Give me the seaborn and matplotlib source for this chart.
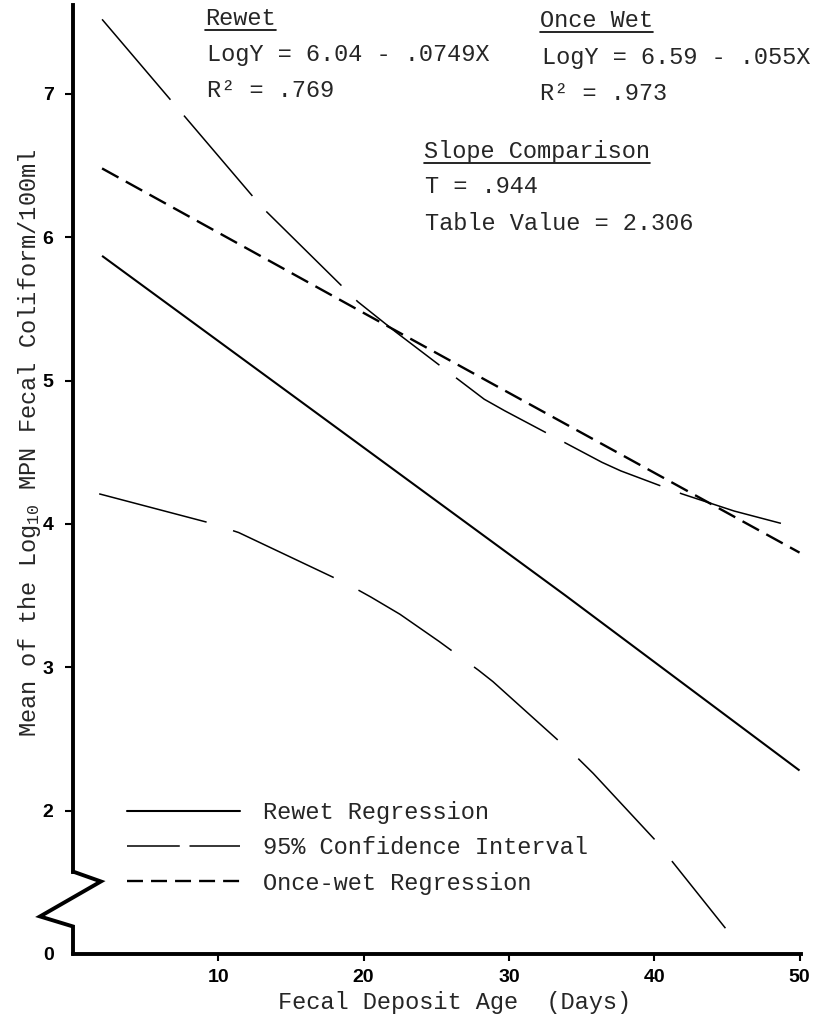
import matplotlib
matplotlib.use("Agg")
import matplotlib.pyplot as plt
from matplotlib.lines import Line2D
import pandas as pd
import seaborn as sns

# ---------------- data ----------------
# x = fecal deposit age (days), y = mean log10 MPN (plotted position)
rewet_x = [2, 15.6, 33.9, 50]
rewet_y = [5.87, 4.86, 3.50, 2.28]

oncewet_x = [2, 22, 50]
oncewet_y = [6.48, 5.36, 3.80]

ci_upper_x = [2, 6.7, 13, 19.6, 22.2, 28.3, 29.7, 36.4, 37.7, 41.9, 45.5, 50]
ci_upper_y = [7.52, 6.96, 6.21, 5.55, 5.34, 4.87, 4.79, 4.43, 4.37, 4.21, 4.09, 3.97]

ci_lower_x = [1.8, 9.3, 11.4, 18.9, 20.5, 22.5, 25.2, 27.9, 28.9, 34.6, 35.8, 40.2, 41.2, 44.9]
ci_lower_y = [4.21, 4.01, 3.94, 3.58, 3.49, 3.37, 3.18, 2.98, 2.90, 2.38, 2.26, 1.78, 1.65, 1.18]

x_ticks = [10, 20, 30, 40, 50]
x_tick_labels = ["10", "20", "30", "40", "50"]
y_ticks = [1.0, 2, 3, 4, 5, 6, 7]          # 1.0 is where the "0" sits below the axis break
y_tick_labels = ["0", "2", "3", "4", "5", "6", "7"]

legend_labels = ["Rewet Regression", "95% Confidence Interval", "Once-wet Regression"]

# ---------------- style ----------------
sns.set_theme(style="ticks")
plt.rcParams["font.family"] = ["Liberation Mono", "DejaVu Sans"]
plt.rcParams["mathtext.fontset"] = "custom"
plt.rcParams["mathtext.rm"] = "Liberation Mono"
plt.rcParams["mathtext.it"] = "Liberation Mono"
plt.rcParams["lines.scale_dashes"] = False

W, H = 815, 1016
FS = 17
fig = plt.figure(figsize=(W / 100, H / 100), dpi=100)
fig.patch.set_facecolor("white")
ax = fig.add_axes([73 / W, 1 - 954 / H, (801 - 73) / W, (954 - 5) / H])
ax.set_facecolor("white")

def line(xs, ys, lw, dashes=None):
    df = pd.DataFrame({"x": xs, "y": ys})
    sns.lineplot(data=df, x="x", y="y", ax=ax, color="black", lw=lw,
                 estimator=None, sort=False, legend=False)
    ln = ax.lines[-1]
    ln.set_solid_capstyle("butt")
    if dashes is not None:
        ln.set_dashes(dashes)
    return ln

line(rewet_x, rewet_y, 1.5)
line(oncewet_x, oncewet_y, 1.7, [13.5, 6])
line(ci_upper_x, ci_upper_y, 1.1, [76, 15])
line(ci_lower_x, ci_lower_y, 1.1, [80, 20])

ax.set_xlim(0, 50.1)
ax.set_ylim(1.0, 7.62)
ax.set_xlabel("")
ax.set_ylabel("")

ax.set_xticks(x_ticks)
ax.set_xticklabels(x_tick_labels)
ax.set_yticks(y_ticks)
ax.set_yticklabels(y_tick_labels)
for lab in ax.get_xticklabels() + ax.get_yticklabels():
    lab.set_family(["Liberation Sans", "DejaVu Sans"])
    lab.set_fontweight("bold")
    lab.set_fontsize(14)
ax.tick_params(axis="x", direction="out", length=5, width=1.5, pad=6, colors="black")
ax.tick_params(axis="y", direction="out", length=6, width=1.5, pad=8, colors="black")
ax.yaxis.get_major_ticks()[0].tick1line.set_visible(False)

sns.despine(ax=ax)
for s in ("left", "bottom"):
    ax.spines[s].set_linewidth(2.8)
    ax.spines[s].set_color("black")
ax.spines["left"].set_bounds(1.575, 7.62)

# axis-break zigzag on the y axis
ax.add_line(Line2D([0, 1.92, -2.27, 0, 0], [1.575, 1.506, 1.262, 1.192, 1.0],
                   color="black", lw=2.8, clip_on=False, solid_joinstyle="miter"))

# legend
handles = [
    Line2D([], [], color="black", lw=1.5),
    Line2D([], [], color="black", lw=1.1, dashes=[38, 7]),
    Line2D([], [], color="black", lw=1.7, dashes=[11.5, 5.8]),
]
ax.legend(handles, legend_labels, loc="upper left",
          bbox_to_anchor=(127 / W, 1 - 801 / H), bbox_transform=fig.transFigure,
          frameon=False, borderpad=0, borderaxespad=0, handlelength=4.8,
          handletextpad=0.95, labelspacing=0.52, fontsize=FS)

# axis labels
fig.text(30 / W, 1 - 443 / H, r"Mean of the Log$_{\mathregular{10}}$ MPN Fecal Coliform/100ml",
         rotation=90, ha="center", va="center", fontsize=FS)
fig.text(455 / W, 1 - 1002 / H, "Fecal Deposit Age  (Days)", ha="center", va="center", fontsize=FS)

# annotations
def t(px, py, s, underline=False):
    txt = fig.text(px / W, 1 - py / H, s, ha="left", va="baseline", fontsize=FS)
    if underline:
        fig.canvas.draw()
        bb = txt.get_window_extent()
        yl = 1 - (py + 5) / H
        fig.add_artist(Line2D([bb.x0 / W, bb.x1 / W], [yl, yl], color="black", lw=1.2))
    return txt

t(205, 25, "Rewet", underline=True)
t(207, 61, "LogY = 6.04 - .0749X")
t(207, 97, "R\u00b2 = .769")
t(540, 27, "Once Wet", underline=True)
t(542, 64, "LogY = 6.59 - .055X")
t(540, 100, "R\u00b2 = .973")
t(424, 158, "Slope Comparison", underline=True)
t(425, 193, "T = .944")
t(425, 230, "Table Value = 2.306")

fig.savefig("out.png", dpi=100, facecolor="white")
